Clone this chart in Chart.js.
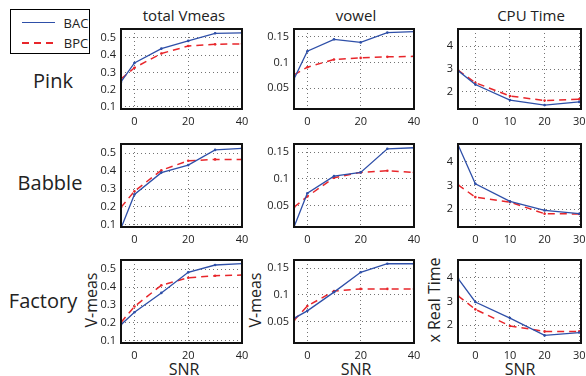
<!DOCTYPE html>
<html>
<head>
<meta charset="utf-8">
<script src="https://cdn.jsdelivr.net/npm/chart.js@4/dist/chart.umd.min.js"></script>
<style>
  html, body { margin: 0; padding: 0; background: #fff; overflow: hidden; }
  body { width: 586px; height: 376px; position: relative; font-family: "Open Sans", sans-serif; color: #222; }
  canvas { position: absolute; }
  .lbl { position: absolute; white-space: nowrap; transform: translate(-50%, -50%); }
  .rot { transform: translate(-50%, -50%) rotate(-90deg); }
</style>
</head>
<body>

<div id="legend" style="position:absolute; left:10px; top:9px; width:78px; height:43px; border:1.5px solid #000;">
  <div style="position:absolute; left:11px; top:12px; width:33px; height:0; border-top:1.5px solid #2E4FA8;"></div>
  <div class="lbl" style="left:65px; top:13px; font-size:13px;">BAC</div>
  <div style="position:absolute; left:11px; top:32px; width:33px; height:1.6px; background:repeating-linear-gradient(to right, #E8262B 0 7px, transparent 7px 12px);"></div>
  <div class="lbl" style="left:65px; top:33px; font-size:13px;">BPC</div>
</div>

<div class="lbl" style="left:184px; top:15px; font-size:15px;">total Vmeas</div>
<div class="lbl" style="left:356px; top:15px; font-size:15px;">vowel</div>
<div class="lbl" style="left:531px; top:15px; font-size:15px;">CPU Time</div>

<div class="lbl" style="left:53px; top:80px; font-size:20px;">Pink</div>
<div class="lbl" style="left:50px; top:182px; font-size:20px;">Babble</div>
<div class="lbl" style="left:43px; top:300px; font-size:20px;">Factory</div>

<div class="lbl rot" style="left:91px; top:300px; font-size:16px;">V-meas</div>
<div class="lbl rot" style="left:255px; top:300px; font-size:16px;">V-meas</div>
<div class="lbl rot" style="left:434px; top:300px; font-size:16px;">x Real Time</div>

<div class="lbl" style="left:184px; top:369px; font-size:16px;">SNR</div>
<div class="lbl" style="left:356px; top:369px; font-size:16px;">SNR</div>
<div class="lbl" style="left:520px; top:369px; font-size:16px;">SNR</div>

<script>
// SNR values (x axis)
const snr = [-5, 0, 10, 20, 30, 40];
const snrCpu = [-5, 0, 10, 20, 30];

// tick values and labels
const xTicks = [0, 20, 40];
const xTicksCpu = [0, 10, 20, 30];
const vmeasTicks = [0.1, 0.2, 0.3, 0.4, 0.5];
const vmeasLabels = ['0.1', '0.2', '0.3', '0.4', '0.5'];
const vowelTicks = [0.05, 0.1, 0.15];
const vowelLabels = ['0.05', '0.1', '0.15'];
const cpuTicks = [2, 3, 4];
const cpuLabels = ['2', '3', '4'];

// Pink noise
const pinkVmeasBAC = [0.245, 0.355, 0.438, 0.483, 0.527, 0.53];
const pinkVmeasBPC = [0.262, 0.327, 0.41, 0.453, 0.463, 0.466];
const pinkVowelBAC = [0.068, 0.122, 0.145, 0.139, 0.158, 0.16];
const pinkVowelBPC = [0.076, 0.091, 0.106, 0.109, 0.111, 0.112];
const pinkCpuBAC = [2.93, 2.32, 1.64, 1.42, 1.56];
const pinkCpuBPC = [2.95, 2.4, 1.82, 1.62, 1.68];

// Babble noise
const babbleVmeasBAC = [0.081, 0.27, 0.392, 0.434, 0.519, 0.528];
const babbleVmeasBPC = [0.198, 0.288, 0.405, 0.458, 0.466, 0.466];
const babbleVowelBAC = [0.01, 0.073, 0.105, 0.112, 0.156, 0.158];
const babbleVowelBPC = [0.047, 0.067, 0.102, 0.112, 0.115, 0.112];
const babbleCpuBAC = [4.72, 3.07, 2.33, 1.95, 1.81];
const babbleCpuBPC = [3.03, 2.51, 2.3, 1.81, 1.8];

// Factory noise
const factoryVmeasBAC = [0.19, 0.26, 0.368, 0.483, 0.524, 0.532];
const factoryVmeasBPC = [0.203, 0.292, 0.411, 0.453, 0.464, 0.468];
const factoryVowelBAC = [0.056, 0.07, 0.105, 0.142, 0.158, 0.158];
const factoryVowelBPC = [0.052, 0.079, 0.107, 0.111, 0.111, 0.111];
const factoryCpuBAC = [3.97, 2.98, 2.3, 1.57, 1.69];
const factoryCpuBPC = [3.24, 2.67, 1.97, 1.74, 1.74];

// panel layout (plot area edges in page pixels)
const cols = [{ l: 121, r: 242 }, { l: 294, r: 414 }, { l: 458, r: 581 }];
const rows = [{ t: 29, b: 109 }, { t: 144, b: 227 }, { t: 260, b: 343 }];

const PAD_L = 45, PAD_T = 12, PAD_R = 15, PAD_B = 22;

// black box around each plot area
const framePlugin = {
    id: 'frame',
    afterDraw(chart) {
        const a = chart.chartArea;
        const ctx = chart.ctx;
        ctx.save();
        ctx.strokeStyle = '#111';
        ctx.lineWidth = 2;
        ctx.strokeRect(a.left, a.top, a.right - a.left, a.bottom - a.top);
        ctx.restore();
    }
};

function toPoints(xs, ys) {
    return xs.map((x, i) => ({ x: x, y: ys[i] }));
}

function makePanel(row, col, xs, bac, bpc, xOpts, yOpts) {
    const r = rows[row], c = cols[col];
    const w = (c.r - c.l) + PAD_L + PAD_R;
    const h = (r.b - r.t) + PAD_T + PAD_B;
    const canvas = document.createElement('canvas');
    canvas.width = w;
    canvas.height = h;
    canvas.style.left = (c.l - PAD_L) + 'px';
    canvas.style.top = (r.t - PAD_T) + 'px';
    canvas.style.width = w + 'px';
    canvas.style.height = h + 'px';
    document.body.appendChild(canvas);

    const gridStyle = { color: 'rgba(0,0,0,0.55)', lineWidth: 1, drawTicks: false };
    const tickFont = { family: '"Open Sans", sans-serif', size: 11 };

    new Chart(canvas.getContext('2d'), {
        type: 'line',
        data: {
            datasets: [{
                label: 'BAC',
                data: toPoints(xs, bac),
                borderColor: '#2E4FA8',
                backgroundColor: '#2E4FA8',
                borderWidth: 1.3,
                pointRadius: 1.3,
                pointBorderWidth: 0,
                tension: 0
            }, {
                label: 'BPC',
                data: toPoints(xs, bpc),
                borderColor: '#E8262B',
                backgroundColor: '#E8262B',
                borderWidth: 1.5,
                borderDash: [7, 5],
                pointRadius: 1.3,
                pointBorderWidth: 0,
                tension: 0
            }]
        },
        options: {
            responsive: false,
            animation: false,
            layout: { padding: { left: 0, top: PAD_T, right: PAD_R, bottom: 0 } },
            plugins: { legend: { display: false }, tooltip: { enabled: false } },
            scales: {
                x: {
                    type: 'linear',
                    min: -5,
                    max: xOpts.max,
                    afterBuildTicks: (scale) => { scale.ticks = xOpts.ticks.map(v => ({ value: v })); },
                    afterFit: (scale) => { scale.height = PAD_B; },
                    grid: gridStyle,
                    border: { display: false, dash: [1, 3] },
                    ticks: { autoSkip: false, maxRotation: 0, padding: 6, color: '#222', font: tickFont }
                },
                y: {
                    type: 'linear',
                    min: yOpts.min,
                    max: yOpts.max,
                    afterBuildTicks: (scale) => { scale.ticks = yOpts.ticks.map(v => ({ value: v })); },
                    afterFit: (scale) => { scale.width = PAD_L; },
                    grid: gridStyle,
                    border: { display: false, dash: [1, 3] },
                    ticks: {
                        autoSkip: false,
                        padding: 5,
                        color: '#222',
                        font: tickFont,
                        callback: (v) => {
                            const i = yOpts.ticks.findIndex(t => Math.abs(t - v) < 1e-9);
                            return i >= 0 ? yOpts.labels[i] : '';
                        }
                    }
                }
            }
        },
        plugins: [framePlugin]
    });
}

const xSnr = { max: 40, ticks: xTicks };
const xCpu = { max: 30.5, ticks: xTicksCpu };
const yVmeas = { min: 0.088, max: 0.552, ticks: vmeasTicks, labels: vmeasLabels };
const yVowel = { min: 0.01, max: 0.165, ticks: vowelTicks, labels: vowelLabels };
const yCpu = { min: 1.25, max: 4.75, ticks: cpuTicks, labels: cpuLabels };

makePanel(0, 0, snr, pinkVmeasBAC, pinkVmeasBPC, xSnr, yVmeas);
makePanel(0, 1, snr, pinkVowelBAC, pinkVowelBPC, xSnr, yVowel);
makePanel(0, 2, snrCpu, pinkCpuBAC, pinkCpuBPC, xCpu, yCpu);

makePanel(1, 0, snr, babbleVmeasBAC, babbleVmeasBPC, xSnr, yVmeas);
makePanel(1, 1, snr, babbleVowelBAC, babbleVowelBPC, xSnr, yVowel);
makePanel(1, 2, snrCpu, babbleCpuBAC, babbleCpuBPC, xCpu, yCpu);

makePanel(2, 0, snr, factoryVmeasBAC, factoryVmeasBPC, xSnr, yVmeas);
makePanel(2, 1, snr, factoryVowelBAC, factoryVowelBPC, xSnr, yVowel);
makePanel(2, 2, snrCpu, factoryCpuBAC, factoryCpuBPC, xCpu, yCpu);
</script>
</body>
</html>
